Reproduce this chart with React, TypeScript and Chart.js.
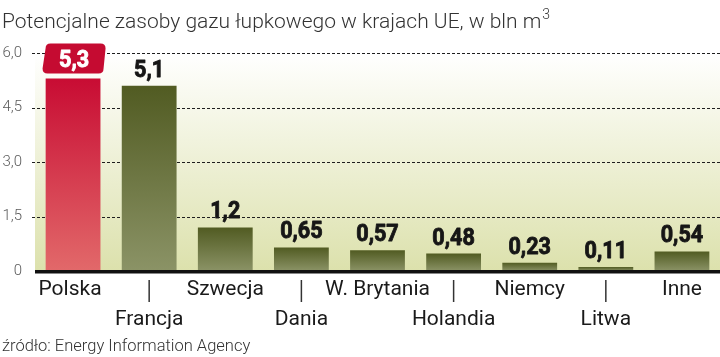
import React, { useEffect, useRef } from "react";
import { Chart, registerables } from "chart.js";
Chart.register(...registerables);

const categories = ["Polska", "Francja", "Szwecja", "Dania", "W. Brytania", "Holandia", "Niemcy", "Litwa", "Inne"];
const values = [5.3, 5.1, 1.2, 0.65, 0.57, 0.48, 0.23, 0.11, 0.54];
const valueLabels = ["5,3", "5,1", "1,2", "0,65", "0,57", "0,48", "0,23", "0,11", "0,54"];
const yTickValues = [0, 1.5, 3, 4.5, 6];
const yTickLabels = ["0", "1,5", "3,0", "4,5", "6,0"];
const titleText = "Potencjalne zasoby gazu łupkowego w krajach UE, w bln m";
const titleSup = "3";
const sourceText = "źródło: Energy Information Agency";
const highlightIndex = 0;

const CAT_FONT = "'Roboto', 'DejaVu Sans', sans-serif";
const NUM_FONT = "'Roboto', 'DejaVu Sans', sans-serif";

const drawCondensed = (ctx: any, text: string, x: number, y: number, sx: number, color: string) => {
  ctx.save();
  ctx.translate(x, y);
  ctx.scale(sx, 1);
  ctx.fillStyle = color;
  ctx.strokeStyle = color;
  ctx.lineWidth = 0.9;
  ctx.lineJoin = "round";
  ctx.fillText(text, 0, 0);
  ctx.strokeText(text, 0, 0);
  ctx.restore();
};

const decor = {
  id: "decor",
  beforeDraw(chart: any) {
    const { ctx, chartArea: a } = chart;
    ctx.save();
    ctx.fillStyle = "#ffffff";
    ctx.fillRect(0, 0, chart.width, chart.height);
    const g = ctx.createLinearGradient(0, a.top, 0, a.bottom);
    g.addColorStop(0, "#ffffff");
    g.addColorStop(1, "#dce1ac");
    ctx.fillStyle = g;
    ctx.fillRect(a.left, a.top, a.right - a.left, a.bottom - a.top);
    ctx.restore();
  },
  beforeDatasetsDraw(chart: any) {
    const { ctx, chartArea: a } = chart;
    const ys = chart.scales.y;
    ctx.save();
    ctx.strokeStyle = "#1e1e1e";
    ctx.lineWidth = 1;
    ctx.setLineDash([3, 2]);
    yTickValues.forEach((v) => {
      if (v === 0) return;
      const y = Math.round(ys.getPixelForValue(v)) + 0.5;
      ctx.beginPath();
      ctx.moveTo(a.left - 3, y);
      ctx.lineTo(a.right, y);
      ctx.stroke();
    });
    ctx.restore();
  },
  afterDatasetsDraw(chart: any) {
    const { ctx, chartArea: a } = chart;
    const xs = chart.scales.x;
    const ys = chart.scales.y;
    const meta = chart.getDatasetMeta(0);
    ctx.save();
    // baseline
    const y0 = ys.getPixelForValue(0);
    ctx.fillStyle = "#111111";
    ctx.fillRect(a.left, y0 - 1, a.right - a.left, 3.5);

    // value labels
    values.forEach((v, i) => {
      const bar = meta.data[i];
      const x = bar.x;
      const top = ys.getPixelForValue(v);
      ctx.font = `bold 24px ${NUM_FONT}`;
      ctx.textAlign = "center";
      ctx.textBaseline = "alphabetic";
      if (i === highlightIndex) {
        const w = 63, h = 30;
        const bx = x - w / 2 + 1, by = top - 5 - h;
        ctx.fillStyle = "#c50b31";
        ctx.beginPath();
        const r = 5;
        ctx.moveTo(bx + r + 3, by);
        ctx.lineTo(bx + w - r, by);
        ctx.quadraticCurveTo(bx + w, by, bx + w, by + r);
        ctx.lineTo(bx + w - 2, by + h - r);
        ctx.quadraticCurveTo(bx + w - 2, by + h, bx + w - 2 - r, by + h);
        ctx.lineTo(bx + r, by + h);
        ctx.quadraticCurveTo(bx, by + h, bx, by + h - r);
        ctx.lineTo(bx + 3, by + r);
        ctx.quadraticCurveTo(bx + 3, by, bx + r + 3, by);
        ctx.closePath();
        ctx.fill();
        drawCondensed(ctx, valueLabels[i], x + 1, by + 24, 0.9, "#ffffff");
      } else {
        drawCondensed(ctx, valueLabels[i], x, top - 9, 0.9, "#161616");
      }
    });

    // category labels
    ctx.font = `21px ${CAT_FONT}`;
    ctx.textAlign = "center";
    ctx.textBaseline = "middle";
    categories.forEach((c, i) => {
      const x = xs.getPixelForValue(i);
      ctx.fillStyle = "#1a1a1a";
      if (i % 2 === 0) {
        ctx.fillText(c, i === 0 ? x - 3 : x, 290);
      } else {
        ctx.fillText(c, x, 320);
        ctx.strokeStyle = "#333333";
        ctx.lineWidth = 1.5;
        ctx.beginPath();
        ctx.moveTo(x, 280);
        ctx.lineTo(x, 302);
        ctx.stroke();
      }
    });

    // title
    ctx.textAlign = "left";
    ctx.textBaseline = "alphabetic";
    ctx.fillStyle = "#333333";
    ctx.font = `300 21px ${CAT_FONT}`;
    ctx.fillText(titleText, 2, 28);
    const tw = ctx.measureText(titleText).width;
    ctx.font = `300 14px ${CAT_FONT}`;
    ctx.fillText(titleSup, 2 + tw + 1, 19);

    // source
    ctx.font = `300 16.5px ${CAT_FONT}`;
    ctx.fillStyle = "#333333";
    ctx.fillText(sourceText, 2, 351);
    ctx.restore();
  },
};

export default function App() {
  const ref = useRef<HTMLCanvasElement>(null);
  useEffect(() => {
    document.body.style.margin = "0";
    const barColor = (ctx: any) => {
      const chart = ctx.chart;
      const a = chart.chartArea;
      const hi = ctx.dataIndex === highlightIndex;
      if (!a) return hi ? "#d63a48" : "#6d7640";
      const ys = chart.scales.y;
      const top = ys.getPixelForValue(values[ctx.dataIndex]);
      const bot = ys.getPixelForValue(0);
      const g = chart.ctx.createLinearGradient(0, top, 0, Math.max(bot, top + 1));
      if (hi) {
        g.addColorStop(0, "#c80c33");
        g.addColorStop(1, "#e2696a");
      } else {
        g.addColorStop(0, "#515b22");
        g.addColorStop(1, "#8b9366");
      }
      return g;
    };
    const chart = new Chart(ref.current!, {
      type: "bar",
      data: {
        labels: categories,
        datasets: [
          {
            data: values,
            backgroundColor: barColor,
            borderWidth: 0,
            barPercentage: 0.72,
            categoryPercentage: 1,
          },
        ],
      },
      options: {
        animation: false,
        responsive: false,
        events: [],
        layout: { padding: { top: 53, bottom: 86, left: 0, right: 0 } },
        plugins: { legend: { display: false }, tooltip: { enabled: false }, title: { display: false } },
        scales: {
          x: { display: false },
          y: {
            min: 0,
            max: 6,
            afterFit: (s: any) => {
              s.width = 35;
            },
            afterBuildTicks: (s: any) => {
              s.ticks = yTickValues.map((v) => ({ value: v }));
            },
            border: { display: false },
            grid: { display: false },
            ticks: {
              padding: 5,
              color: "#5a5a5a",
              font: { family: "Roboto", size: 15, weight: "300" },
              callback: (v: any) => {
                const idx = yTickValues.indexOf(Number(v));
                return idx >= 0 ? yTickLabels[idx] : "";
              },
            },
          },
        },
      },
      plugins: [decor],
    });
    return () => chart.destroy();
  }, []);
  return (
    <div style={{ width: 720, height: 357 }}>
      <canvas ref={ref} width={720} height={357} style={{ display: "block" }} />
    </div>
  );
}
